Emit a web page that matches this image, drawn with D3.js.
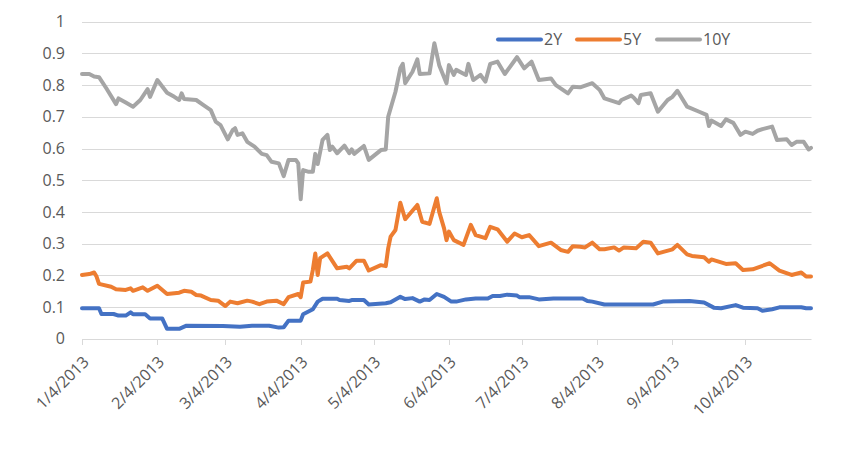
<!DOCTYPE html>
<html>
<head>
<meta charset="utf-8">
<script src="https://cdn.jsdelivr.net/npm/d3@7"></script>
<style>
  body { margin: 0; background: #fff; }
  text { font-family: "Open Sans", sans-serif; fill: #595959; }
</style>
</head>
<body>
<script>
// tick labels
const monthTicks = ["2013-01-04","2013-02-04","2013-03-04","2013-04-04","2013-05-04","2013-06-04","2013-07-04","2013-08-04","2013-09-04","2013-10-04"];
const yTicks = [0, 0.1, 0.2, 0.3, 0.4, 0.5, 0.6, 0.7, 0.8, 0.9, 1];
const seriesNames = ["2Y", "5Y", "10Y"];

// 2Y
const dates2 = ["2013-01-04","2013-01-11","2013-01-12","2013-01-17","2013-01-19","2013-01-22","2013-01-24","2013-01-25","2013-01-30",
  "2013-02-01","2013-02-06","2013-02-08","2013-02-13","2013-02-16",
  "2013-03-03","2013-03-10","2013-03-15","2013-03-22","2013-03-26","2013-03-28","2013-03-30",
  "2013-04-04","2013-04-05","2013-04-09","2013-04-11","2013-04-13","2013-04-19","2013-04-20","2013-04-24","2013-04-25","2013-04-30",
  "2013-05-02","2013-05-09","2013-05-11","2013-05-15","2013-05-17","2013-05-20","2013-05-23","2013-05-25","2013-05-27","2013-05-30",
  "2013-06-02","2013-06-05","2013-06-07","2013-06-11","2013-06-15","2013-06-20","2013-06-22","2013-06-25","2013-06-28",
  "2013-07-02","2013-07-03","2013-07-07","2013-07-11","2013-07-17","2013-07-29","2013-07-31",
  "2013-08-02","2013-08-07","2013-08-27","2013-08-31",
  "2013-09-11","2013-09-17","2013-09-21","2013-09-24","2013-09-30",
  "2013-10-03","2013-10-09","2013-10-11","2013-10-15","2013-10-18","2013-10-27","2013-10-29","2013-10-31"];
const vals2 = [0.096,0.096,0.078,0.078,0.073,0.073,0.083,0.077,0.077,
  0.064,0.064,0.031,0.031,0.041,
  0.040,0.038,0.041,0.041,0.035,0.036,0.057,
  0.057,0.077,0.093,0.117,0.126,0.126,0.122,0.119,0.122,0.122,
  0.108,0.112,0.115,0.132,0.125,0.128,0.117,0.124,0.122,0.141,
  0.132,0.117,0.117,0.124,0.127,0.127,0.135,0.135,0.139,
  0.136,0.131,0.131,0.124,0.127,0.127,0.119,
  0.117,0.108,0.108,0.117,
  0.119,0.114,0.098,0.096,0.106,
  0.098,0.096,0.088,0.093,0.099,0.099,0.096,0.096];

// 5Y
const dates5 = ["2013-01-04","2013-01-07","2013-01-09","2013-01-10","2013-01-11","2013-01-16","2013-01-18","2013-01-22","2013-01-24","2013-01-25","2013-01-29","2013-01-31",
  "2013-02-04","2013-02-08","2013-02-13","2013-02-15","2013-02-18","2013-02-20","2013-02-22","2013-02-26",
  "2013-03-01","2013-03-04","2013-03-06","2013-03-09","2013-03-13","2013-03-15","2013-03-18","2013-03-21","2013-03-25","2013-03-28","2013-03-30",
  "2013-04-03","2013-04-04","2013-04-05","2013-04-08","2013-04-09","2013-04-10","2013-04-11","2013-04-12","2013-04-15","2013-04-19","2013-04-23","2013-04-24","2013-04-27","2013-04-30",
  "2013-05-02","2013-05-07","2013-05-09","2013-05-10","2013-05-11","2013-05-13","2013-05-15","2013-05-17","2013-05-22","2013-05-24","2013-05-27","2013-05-30","2013-05-31",
  "2013-06-02","2013-06-03","2013-06-04","2013-06-06","2013-06-10","2013-06-13","2013-06-15","2013-06-19","2013-06-21","2013-06-24","2013-06-28",
  "2013-07-01","2013-07-04","2013-07-07","2013-07-11","2013-07-16","2013-07-20","2013-07-23","2013-07-25","2013-07-28","2013-07-30",
  "2013-08-02","2013-08-05","2013-08-07","2013-08-11","2013-08-13","2013-08-15","2013-08-20","2013-08-23","2013-08-26","2013-08-29",
  "2013-09-04","2013-09-06","2013-09-10","2013-09-12","2013-09-17","2013-09-19","2013-09-20","2013-09-26","2013-09-30",
  "2013-10-03","2013-10-07","2013-10-14","2013-10-18","2013-10-23","2013-10-27","2013-10-29","2013-10-31"];
const vals5 = [0.201,0.204,0.209,0.196,0.173,0.164,0.156,0.154,0.159,0.151,0.162,0.151,
  0.167,0.141,0.145,0.151,0.148,0.138,0.136,0.122,
  0.120,0.103,0.117,0.112,0.120,0.117,0.109,0.117,0.120,0.109,0.131,
  0.141,0.131,0.177,0.180,0.217,0.269,0.201,0.254,0.269,0.222,0.227,0.222,0.246,0.246,
  0.215,0.232,0.229,0.285,0.322,0.343,0.429,0.377,0.422,0.369,0.362,0.443,0.400,
  0.348,0.311,0.338,0.311,0.296,0.359,0.327,0.317,0.353,0.345,0.306,
  0.332,0.320,0.327,0.292,0.303,0.280,0.274,0.292,0.290,0.288,
  0.303,0.282,0.282,0.288,0.278,0.288,0.285,0.306,0.303,0.269,
  0.282,0.296,0.266,0.261,0.257,0.243,0.250,0.236,0.238,
  0.217,0.219,0.238,0.215,0.201,0.209,0.196,0.196];

// 10Y
const dates10 = ["2013-01-04","2013-01-07","2013-01-09","2013-01-11","2013-01-14","2013-01-18","2013-01-19","2013-01-22","2013-01-25","2013-01-28","2013-01-31",
  "2013-02-01","2013-02-04","2013-02-08","2013-02-11","2013-02-13","2013-02-14","2013-02-15","2013-02-20","2013-02-23","2013-02-26","2013-02-28",
  "2013-03-02","2013-03-05","2013-03-07","2013-03-08","2013-03-09","2013-03-11","2013-03-13","2013-03-16","2013-03-19","2013-03-21","2013-03-23","2013-03-26","2013-03-28","2013-03-30",
  "2013-04-02","2013-04-03","2013-04-04","2013-04-05","2013-04-07","2013-04-09","2013-04-10","2013-04-11","2013-04-13","2013-04-15","2013-04-16","2013-04-17","2013-04-19","2013-04-22","2013-04-24","2013-04-25","2013-04-26","2013-04-30",
  "2013-05-02","2013-05-07","2013-05-09","2013-05-10","2013-05-13","2013-05-15","2013-05-16","2013-05-17","2013-05-20","2013-05-22","2013-05-23","2013-05-27","2013-05-29","2013-05-31",
  "2013-06-03","2013-06-04","2013-06-06","2013-06-07","2013-06-11","2013-06-12","2013-06-14","2013-06-17","2013-06-19","2013-06-21","2013-06-24","2013-06-27",
  "2013-07-02","2013-07-05","2013-07-08","2013-07-11","2013-07-16","2013-07-18","2013-07-23","2013-07-25","2013-07-28",
  "2013-08-02","2013-08-05","2013-08-07","2013-08-13","2013-08-14","2013-08-18","2013-08-19","2013-08-21","2013-08-22","2013-08-26","2013-08-29",
  "2013-09-02","2013-09-04","2013-09-06","2013-09-10","2013-09-15","2013-09-18","2013-09-19","2013-09-20","2013-09-24","2013-09-26","2013-09-29",
  "2013-10-02","2013-10-04","2013-10-07","2013-10-09","2013-10-11","2013-10-15","2013-10-17","2013-10-21","2013-10-23","2013-10-25","2013-10-28","2013-10-30","2013-10-31"];
const vals10 = [0.835,0.835,0.827,0.825,0.790,0.740,0.758,0.745,0.732,0.753,0.787,
  0.763,0.816,0.776,0.763,0.753,0.774,0.756,0.753,0.737,0.721,0.685,
  0.674,0.629,0.658,0.664,0.643,0.648,0.621,0.606,0.583,0.579,0.558,0.553,0.513,0.564,
  0.564,0.553,0.440,0.532,0.527,0.527,0.583,0.551,0.627,0.643,0.595,0.606,0.585,0.609,0.585,0.597,0.583,0.608,
  0.564,0.595,0.597,0.700,0.779,0.853,0.867,0.806,0.842,0.881,0.835,0.837,0.932,0.863,
  0.806,0.863,0.832,0.848,0.832,0.867,0.816,0.832,0.811,0.867,0.874,0.835,
  0.888,0.853,0.874,0.816,0.821,0.800,0.774,0.795,0.793,
  0.806,0.785,0.758,0.743,0.753,0.767,0.761,0.743,0.769,0.774,0.716,
  0.753,0.763,0.782,0.732,0.716,0.706,0.671,0.688,0.671,0.692,0.681,
  0.643,0.653,0.646,0.656,0.661,0.669,0.627,0.629,0.611,0.621,0.621,0.597,0.602];

const colors = ["#4472C4", "#ED7D31", "#A5A5A5"];

const parse = d3.timeParse("%Y-%m-%d");
const fmt = d3.timeFormat("%-m/%-d/%Y");

const width = 852, height = 465;
const svg = d3.select("body").append("svg")
    .attr("width", width)
    .attr("height", height);

const x = d3.scaleTime()
    .domain([parse("2013-01-04"), parse("2013-10-31")])
    .range([82, 811]);
const y = d3.scaleLinear()
    .domain([0, 1])
    .range([338.7, 21.7]);

// gridlines
svg.append("g")
    .selectAll("line")
    .data(yTicks)
    .join("line")
    .attr("x1", 82)
    .attr("x2", 811.5)
    .attr("y1", d => Math.round(y(d)) + 0.5)
    .attr("y2", d => Math.round(y(d)) + 0.5)
    .attr("stroke", "#d9d9d9")
    .attr("stroke-width", 1);

// y labels
svg.append("g")
    .selectAll("text")
    .data(yTicks)
    .join("text")
    .attr("x", 65)
    .attr("y", d => y(d))
    .attr("dy", "0.35em")
    .attr("text-anchor", "end")
    .style("font-size", "16px")
    .text(d => d3.format("~g")(d));

// x axis ticks + labels
const xg = svg.append("g");
xg.selectAll("line")
    .data(monthTicks.map(parse))
    .join("line")
    .attr("x1", d => Math.round(x(d)) + 0.5)
    .attr("x2", d => Math.round(x(d)) + 0.5)
    .attr("y1", 339)
    .attr("y2", 345)
    .attr("stroke", "#d9d9d9");

xg.selectAll("text")
    .data(monthTicks.map(parse))
    .join("text")
    .attr("transform", d => `translate(${x(d) + 4},${359}) rotate(-45)`)
    .attr("text-anchor", "end")
    .attr("dy", "0.35em")
    .style("font-size", "16px")
    .text(d => fmt(d));

// series lines
const series = [
  {name: seriesNames[0], pts: dates2.map((d, i) => [parse(d), vals2[i]])},
  {name: seriesNames[1], pts: dates5.map((d, i) => [parse(d), vals5[i]])},
  {name: seriesNames[2], pts: dates10.map((d, i) => [parse(d), vals10[i]])}
];

const line = d3.line()
    .x(d => x(d[0]))
    .y(d => y(d[1]));

svg.append("g")
    .selectAll("path")
    .data(series)
    .join("path")
    .attr("d", d => line(d.pts))
    .attr("fill", "none")
    .attr("stroke", (d, i) => colors[i])
    .attr("stroke-width", 4)
    .attr("stroke-linejoin", "round")
    .attr("stroke-linecap", "round");

// legend
const legX = [498, 577, 657];
const leg = svg.append("g")
    .selectAll("g")
    .data(seriesNames)
    .join("g")
    .attr("transform", (d, i) => `translate(${legX[i]},39.5)`);
leg.append("line")
    .attr("x1", 0)
    .attr("x2", 43)
    .attr("stroke", (d, i) => colors[i])
    .attr("stroke-width", 4)
    .attr("stroke-linecap", "round");
leg.append("text")
    .attr("x", 46)
    .attr("dy", "0.35em")
    .style("font-size", "16px")
    .text(d => d);
</script>
</body>
</html>
